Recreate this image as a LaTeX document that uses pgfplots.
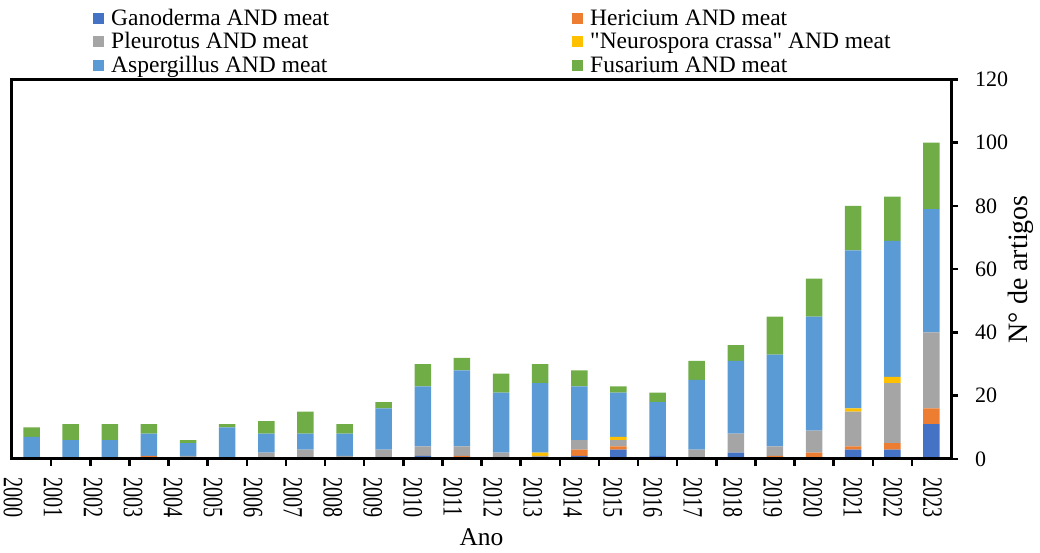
\documentclass[border=0pt]{standalone}
\usepackage{fontspec}
\setmainfont{Liberation Serif}
\newfontfamily\plainfont{Liberation Serif}
\usepackage{graphicx}
\usepackage{pgfplots}
\usepackage{pgfplotstable}
\pgfplotsset{compat=1.18}
\definecolor{cGan}{HTML}{4472C4}
\definecolor{cHer}{HTML}{ED7D31}
\definecolor{cPle}{HTML}{A5A5A5}
\definecolor{cNeu}{HTML}{FFC000}
\definecolor{cAsp}{HTML}{5B9BD5}
\definecolor{cFus}{HTML}{70AD47}
\newcommand\xl[1]{\scalebox{0.72}[1]{#1}}

\pgfplotstableread{
idx gan her ple neu asp fus
0  0  0  0  0  7  3
1  0  0  0  0  6  5
2  0  0  0  0  6  5
3  0  1  0  0  7  3
4  0  0  1  0  4  1
5  0  0  0  0  10 1
6  0  0  2  0  6  4
7  0  0  3  0  5  7
8  0  0  1  0  7  3
9  0  0  3  0  13 2
10 1  0  3  0  19 7
11 0  1  3  0  24 4
12 0  0  2  0  19 6
13 0  0  1  1  22 6
14 1  2  3  0  17 5
15 3  1  2  1  14 2
16 1  0  0  0  17 3
17 0  0  3  0  22 6
18 2  0  6  0  23 5
19 0  1  3  0  29 12
20 0  2  7  0  36 12
21 3  1  11 1  50 14
22 3  2  19 2  43 14
23 11 5  24 0  39 21
}\data

\begin{document}
\begin{tikzpicture}
\begin{axis}[
  name=ax,
  scale only axis,
  width=939pt, height=379.5pt,
  ybar stacked, bar width=16.5pt,
  xmin=-0.5, xmax=23.5, ymin=0, ymax=120,
  ytick={0,20,...,120},
  xtick={0.5,1.5,...,22.5}, xticklabels={},
  extra x ticks={-0.473,0.549,1.571,2.593,3.615,4.637,5.659,6.680,7.702,8.724,9.746,10.768,11.790,12.812,13.834,14.856,15.877,16.899,17.921,18.943,19.965,20.987,22.009,23.031},
  extra x tick labels={\xl{2000},\xl{2001},\xl{2002},\xl{2003},\xl{2004},\xl{2005},\xl{2006},\xl{2007},\xl{2008},\xl{2009},\xl{2010},\xl{2011},\xl{2012},\xl{2013},\xl{2014},\xl{2015},\xl{2016},\xl{2017},\xl{2018},\xl{2019},\xl{2020},\xl{2021},\xl{2022},\xl{2023}},
  extra x tick style={major tick length=0pt},
  xtick pos=left, ytick pos=right, yticklabel pos=right,
  tick align=outside, major tick length=7pt,
  tick style={black, line width=2.5pt},
  axis line style={black, line width=3pt},
  axis on top,
  /pgf/number format/assume math mode=true,
  xticklabel shift=18pt,
  xticklabel style={rotate=-90, anchor=west, inner sep=0pt, font=\fontsize{28}{28}\selectfont},
  yticklabel shift=17pt,
  yticklabel style={anchor=west, inner sep=0pt, font=\fontsize{22}{22}\selectfont},
  xlabel={Ano},
  xlabel style={font=\fontsize{25.5}{25.5}\selectfont, inner sep=0pt, yshift=14pt},
  ylabel={N° de artigos},
  ylabel style={font=\fontsize{28}{28}\selectfont, inner sep=0pt},
  legend columns=2,
  legend style={draw=none, fill=none, inner sep=0pt,
    at={(axis description cs:0.0863,1.187)}, anchor=north west,
    font=\fontsize{23.5}{23.5}\selectfont,
    cells={anchor=base west},
    nodes={inner xsep=0pt, inner ysep=0pt, text height=16.5pt, text depth=7pt},
    /tikz/every odd column/.style={column sep=7pt},
    /tikz/every even column/.style={column sep=243pt}},
  every axis plot post/.append style={legend image code/.code={\fill[##1] (0pt,1.5pt) rectangle (11pt,12.5pt);}},
]
\addplot[fill=cGan, draw=none] table[x=idx, y=gan] {\data};
\addlegendentry{Ganoderma AND meat}
\addplot[fill=cHer, draw=none] table[x=idx, y=her] {\data};
\addlegendentry{Hericium AND meat}
\addplot[fill=cPle, draw=none] table[x=idx, y=ple] {\data};
\addlegendentry{Pleurotus AND meat}
\addplot[fill=cNeu, draw=none] table[x=idx, y=neu] {\data};
\addlegendentry{{\plainfont "Neurospora crassa" AND meat}}
\addplot[fill=cAsp, draw=none] table[x=idx, y=asp] {\data};
\addlegendentry{Aspergillus AND meat}
\addplot[fill=cFus, draw=none] table[x=idx, y=fus] {\data};
\addlegendentry{Fusarium AND meat}
\end{axis}
\pgfresetboundingbox
\path ([xshift=-12pt,yshift=-94pt]ax.south west) rectangle ++(1040pt,553pt);
\end{tikzpicture}
\end{document}
